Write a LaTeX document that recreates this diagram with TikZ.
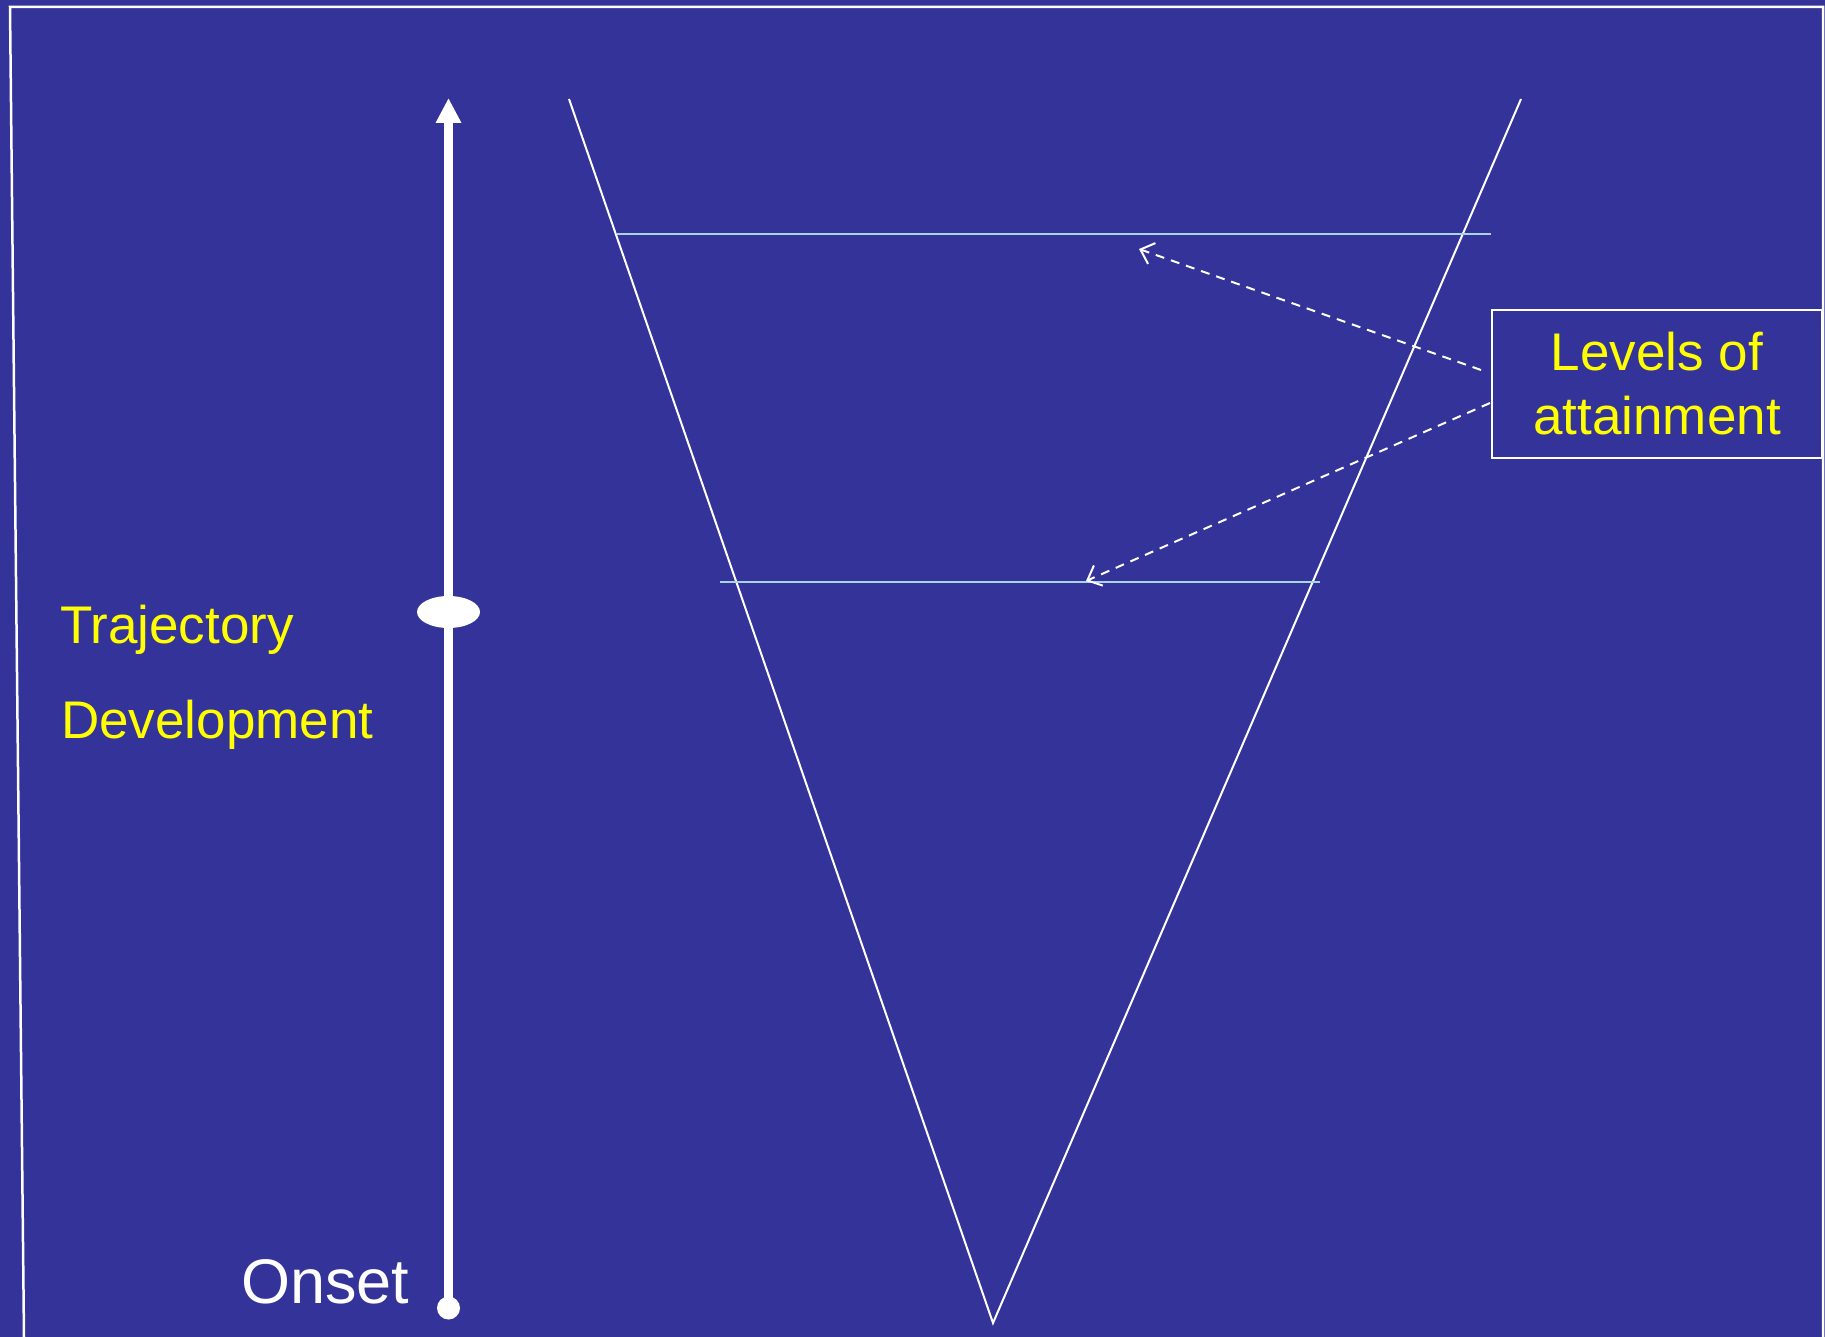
\documentclass[tikz,border=0pt]{standalone}
\usepackage{fontspec}
\setmainfont{Liberation Sans}
\usetikzlibrary{arrows.meta,calc,shapes.geometric}
\definecolor{bgblue}{HTML}{333399}
\definecolor{lvl}{HTML}{A8D4E8}
\definecolor{yel}{HTML}{FFFF00}
\begin{document}
\begin{tikzpicture}[x=1pt,y=-1pt,
  frame/.style={white,line width=2.5pt},
  vline/.style={white,line width=2pt},
  levelline/.style={lvl,line width=2.2pt},
  dasharrow/.style={white,line width=2pt,dash pattern=on 9pt off 7pt,-{Straight Barb[length=12pt,width=22pt,line width=2pt]}},
  ylabel/.style={text=yel,font=\fontsize{53}{64}\selectfont,inner sep=0pt,anchor=base west}]
\fill[bgblue] (0,0) rectangle (1825,1337);
\useasboundingbox (0,0) rectangle (1825,1337);
% frame
\draw[frame] (24,1337) -- (10,7) -- (1823,7) -- (1823,1337);
% V shape
\coordinate (vl) at (569,99);
\coordinate (vb) at (993,1323);
\coordinate (vr) at (1521,99);
\draw[vline] (vl) -- (vb) -- (vr);
% levels
\coordinate (l1a) at (617,234);
\coordinate (l1b) at (1491,234);
\coordinate (l2a) at (720,582);
\coordinate (l2b) at (1320,582);
\draw[levelline] (l1a) -- (l1b);
\draw[levelline] (l2a) -- (l2b);
% trajectory arrow
\node[circle,fill=white,minimum size=23pt,inner sep=0pt] (onsetdot) at (448.5,1308) {};
\coordinate (arrtop) at (448.5,98);
\draw[white,line width=9pt,-{Triangle[length=25pt,width=24pt]}] (onsetdot.center) -- (arrtop);
\node[ellipse,fill=white,minimum width=63pt,minimum height=32pt,inner sep=0pt] (marker) at (448.5,612) {};
% labels
\node[ylabel] (traj) at (60,643) {Trajectory};
\node[ylabel] (dev) at (61,738) {Development};
\node[text=white,font=\fontsize{63}{70}\selectfont,inner sep=0pt,anchor=base west] (onset) at (241,1303) {Onset};
% box
\node[draw=white,line width=2pt,minimum width=330pt,minimum height=148pt,inner sep=0pt,
      align=center,text=yel,font=\fontsize{53}{64}\selectfont] (levels) at (1657,384) {Levels of\\attainment};
\coordinate (tip1) at (1139,249);
\coordinate (tip2) at (1086,581);
\draw[dasharrow] ($(levels.west)+(-10,-14)$) -- (tip1);
\draw[dasharrow] ($(levels.west)+(-1,19)$) -- (tip2);
\end{tikzpicture}
\end{document}
